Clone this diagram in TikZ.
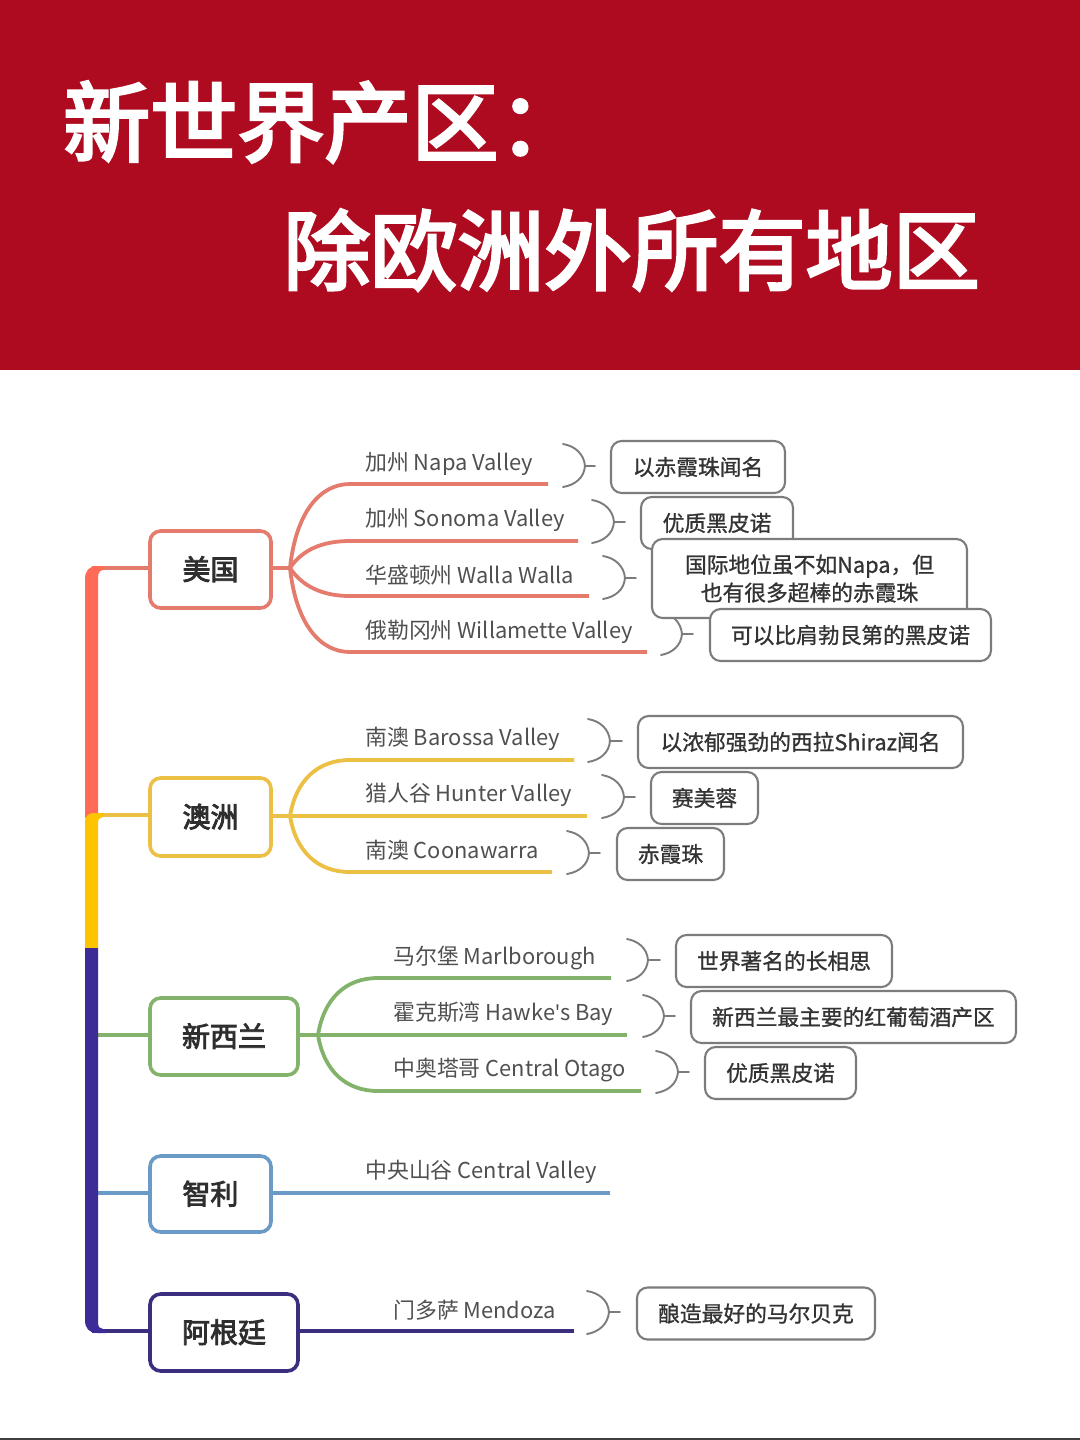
\documentclass[tikz,border=0pt]{standalone}
\usepackage{fontspec}
\setmainfont{Noto Sans CJK SC}
\newfontfamily\latinpart{Noto Sans}
\newfontfamily\titlefont[FakeBold=3.5]{Noto Sans CJK SC}
\newfontfamily\topicfont[FakeBold=3]{Noto Sans CJK SC}
\newfontfamily\notefont[FakeBold=1]{Noto Sans CJK SC}
\definecolor{band}{HTML}{AE0B20}
\definecolor{cus}{HTML}{E57B6C}
\definecolor{cau}{HTML}{EBC044}
\definecolor{cnz}{HTML}{83B26B}
\definecolor{ccl}{HTML}{6A9AC6}
\definecolor{car}{HTML}{3A2F7E}
\definecolor{tus}{HTML}{FF6B57}
\definecolor{tau}{HTML}{FFC400}
\definecolor{tdb}{HTML}{3D2B98}
\definecolor{notegray}{HTML}{7C7C7C}
\definecolor{labelgray}{HTML}{505050}
\tikzset{
 x=0.75pt,y=-0.75pt,
 topicbox/.style={draw=#1,line width=3.6*0.75pt,fill=white,rounded corners=8pt,inner sep=0pt,font=\topicfont\fontsize{21pt}{24pt}\selectfont,text=black!82},
 notebox/.style={draw=notegray,line width=2.1*0.75pt,fill=white,rounded corners=8pt,inner sep=0pt,align=center,font=\notefont\fontsize{16.3pt}{21pt}\selectfont,text=black!80},
 leaf/.style={anchor=west,inner sep=0pt,font=\fontsize{16.4pt}{20pt}\selectfont,text=labelgray},
 branch/.style={draw=#1,line width=3.8*0.75pt},
 link/.style={draw=#1,line width=3.4*0.75pt},
 bracket/.style={draw=notegray,line width=1.9*0.75pt,line cap=round},
 titletext/.style={anchor=west,inner sep=0pt,text=white,font=\titlefont\fontsize{65.3pt}{70pt}\selectfont},
}
\newcommand{\brk}[7]{% name, x start, y top, x mid, y mid, x tick, y bottom
 \coordinate (#1t) at (#2,#3);
 \coordinate (#1m) at (#4,#5);
 \coordinate (#1e) at (#6,#5);
 \coordinate (#1b) at (#2,#7);
 \draw[bracket] (#1t) .. controls (#4-10,#3+2) and (#4-1,#5-12) .. (#1m) .. controls (#4-1,#5+12) and (#4-10,#7-2) .. (#1b);
 \draw[bracket] (#1m) -- (#1e);
}
\newcommand{\tup}[1]{\raisebox{2.2pt}{#1}}
\newcommand{\nup}[1]{\raisebox{1.2pt}{#1}}
\begin{document}
\begin{tikzpicture}
\useasboundingbox (0,0) rectangle (1080,1440);
\fill[white] (0,0) rectangle (1080,1440);
\fill[band] (0,0) rectangle (1080,370);
\fill[black!75] (0,1438) rectangle (1080,1440);
\node[titletext] (title1) at (63,122) {新世界产区：};
\node[titletext] (title2) at (283,250) {除欧洲外所有地区};

% trunk
\coordinate (tTop) at (91.5,568);
\coordinate (tAU) at (91.5,815);
\coordinate (tNZ) at (91.5,1035);
\coordinate (tCL) at (91.5,1193);
\coordinate (tAR) at (91.5,1331);

% topic boxes
\node[topicbox=cus,minimum width=121*0.75pt,minimum height=77*0.75pt] (us) at (210.5,569.5) {\tup{美国}};
\node[topicbox=cau,minimum width=121*0.75pt,minimum height=78*0.75pt] (au) at (210.5,817) {\tup{澳洲}};
\node[topicbox=cnz,minimum width=148*0.75pt,minimum height=77*0.75pt] (nz) at (224,1036.5) {\tup{新西兰}};
\node[topicbox=ccl,minimum width=121*0.75pt,minimum height=76*0.75pt] (cl) at (210.5,1194) {\tup{智利}};
\node[topicbox=car,minimum width=148*0.75pt,minimum height=77*0.75pt] (ar) at (224,1332.5) {\tup{阿根廷}};

% links trunk to topics
\draw[link=cus] (tTop) -- (us.west|-tTop);
\draw[link=cau] (tAU) -- (au.west|-tAU);
\draw[link=cnz] (tNZ) -- (nz.west|-tNZ);
\draw[link=ccl] (tCL) -- (cl.west|-tCL);
\draw[link=car] (tAR) -- (ar.west|-tAR);

% trunk segments
\fill[tus] (85,818) -- (85,579) .. controls (85,571) and (89,566) .. (97,566) -- (104,566) -- (104,570) .. controls (100,570) and (98,572) .. (98,578) -- (98,818) -- cycle;
\fill[tau] (85,948) -- (85,821) .. controls (85,816) and (89,813) .. (94,813) -- (103,813) -- (103,817) .. controls (100,817) and (98,819) .. (98,823) -- (98,948) -- cycle;
\fill[tdb] (85,948) -- (85,1320) .. controls (85,1328) and (89,1333) .. (97,1333) -- (106,1333) -- (106,1329) -- (103,1329) .. controls (100,1329) and (98,1327) .. (98,1322) -- (98,948) -- cycle;

% US branches
\coordinate (jus) at (290,568);
\draw[link=cus] (us.east|-jus) -- (jus);
\coordinate (us1) at (548,484);
\coordinate (us2) at (578,541);
\coordinate (us3) at (589,596);
\coordinate (us4) at (647,652);
\draw[branch=cus] (jus) .. controls (296,512) and (320,484) .. (350,484) -- (us1);
\draw[branch=cus] (jus) .. controls (302,550) and (322,541) .. (350,541) -- (us2);
\draw[branch=cus] (jus) .. controls (302,586) and (322,596) .. (350,596) -- (us3);
\draw[branch=cus] (jus) .. controls (296,624) and (320,652) .. (350,652) -- (us4);
\node[leaf] (lus1) at (365,464) {加州 Napa Valley};
\node[leaf] (lus2) at (365,520) {加州 Sonoma Valley};
\node[leaf] (lus3) at (365,575) {华盛顿州 Walla Walla};
\node[leaf] (lus4) at (365,632) {俄勒冈州 Willamette Valley};

% AU branches
\coordinate (jau) at (290,816);
\draw[link=cau] (au.east|-jau) -- (jau);
\coordinate (au1) at (574,760);
\coordinate (au2) at (587,816);
\coordinate (au3) at (552,872);
\draw[branch=cau] (jau) .. controls (296,780) and (318,760) .. (350,760) -- (au1);
\draw[branch=cau] (jau) -- (au2);
\draw[branch=cau] (jau) .. controls (296,852) and (318,872) .. (350,872) -- (au3);
\node[leaf] (lau1) at (365,739) {南澳 Barossa Valley};
\node[leaf] (lau2) at (365,795) {猎人谷 Hunter Valley};
\node[leaf] (lau3) at (365,850) {南澳 Coonawarra};

% NZ branches
\coordinate (jnz) at (318,1035);
\draw[link=cnz] (nz.east|-jnz) -- (jnz);
\coordinate (nz1) at (611,978);
\coordinate (nz2) at (627,1035);
\coordinate (nz3) at (641,1091);
\draw[branch=cnz] (jnz) .. controls (324,998) and (346,978) .. (378,978) -- (nz1);
\draw[branch=cnz] (jnz) -- (nz2);
\draw[branch=cnz] (jnz) .. controls (324,1071) and (346,1091) .. (378,1091) -- (nz3);
\node[leaf] (lnz1) at (393,958) {马尔堡 Marlborough};
\node[leaf] (lnz2) at (393,1014) {霍克斯湾 Hawke{\latinpart\char39}s Bay};
\node[leaf] (lnz3) at (393,1070) {中奥塔哥 Central Otago};

% Chile, Argentina
\coordinate (cl1) at (610,1193);
\draw[link=ccl] (cl.east|-cl1) -- (cl1);
\node[leaf] (lcl1) at (365,1172) {中央山谷 Central Valley};
\coordinate (ar1) at (574,1331);
\draw[branch=car] (ar.east|-ar1) -- (ar1);
\node[leaf] (lar1) at (393,1310) {门多萨 Mendoza};

% brackets
\brk{b1}{563}{444}{585}{466}{595}{487}
\brk{b2}{592}{500}{614}{522}{625}{543}
\brk{b3}{603}{556}{625}{578}{636}{599}
\brk{b4}{661}{612}{682}{634}{693}{655}
\brk{b5}{588}{719}{610}{741}{622}{762}
\brk{b6}{602}{775}{624}{797}{635}{818}
\brk{b7}{567}{831}{589}{853}{600}{874}
\brk{b8}{627}{939}{648}{960}{660}{981}
\brk{b9}{643}{995}{664}{1016}{675}{1037}
\brk{b10}{656}{1051}{678}{1072}{689}{1093}
\brk{b11}{587}{1291}{609}{1312}{620}{1334}

% notes
\node[notebox,minimum width=174*0.75pt,minimum height=52*0.75pt] (n1) at (698,467) {\nup{以赤霞珠闻名}};
\node[notebox,minimum width=152*0.75pt,minimum height=52*0.75pt] (n2) at (717,523) {\nup{优质黑皮诺}};
\node[notebox,minimum width=315*0.75pt,minimum height=79*0.75pt] (n3) at (809.5,578.5) {国际地位虽不如Napa，但\\也有很多超棒的赤霞珠};
\node[notebox,minimum width=281*0.75pt,minimum height=52*0.75pt] (n4) at (850.5,635) {\nup{可以比肩勃艮第的黑皮诺}};
\node[notebox,minimum width=325*0.75pt,minimum height=52*0.75pt] (n5) at (800.5,742) {\nup{以浓郁强劲的西拉Shiraz闻名}};
\node[notebox,minimum width=107*0.75pt,minimum height=52*0.75pt] (n6) at (704.5,798) {\nup{赛美蓉}};
\node[notebox,minimum width=107*0.75pt,minimum height=52*0.75pt] (n7) at (670.5,854) {\nup{赤霞珠}};
\node[notebox,minimum width=216*0.75pt,minimum height=52*0.75pt] (n8) at (784,961) {\nup{世界著名的长相思}};
\node[notebox,minimum width=325*0.75pt,minimum height=52*0.75pt] (n9) at (853.5,1017) {\nup{新西兰最主要的红葡萄酒产区}};
\node[notebox,minimum width=151*0.75pt,minimum height=52*0.75pt] (n10) at (780.5,1073) {\nup{优质黑皮诺}};
\node[notebox,minimum width=238*0.75pt,minimum height=52*0.75pt] (n11) at (756,1313.5) {\nup{酿造最好的马尔贝克}};
\end{tikzpicture}
\end{document}
